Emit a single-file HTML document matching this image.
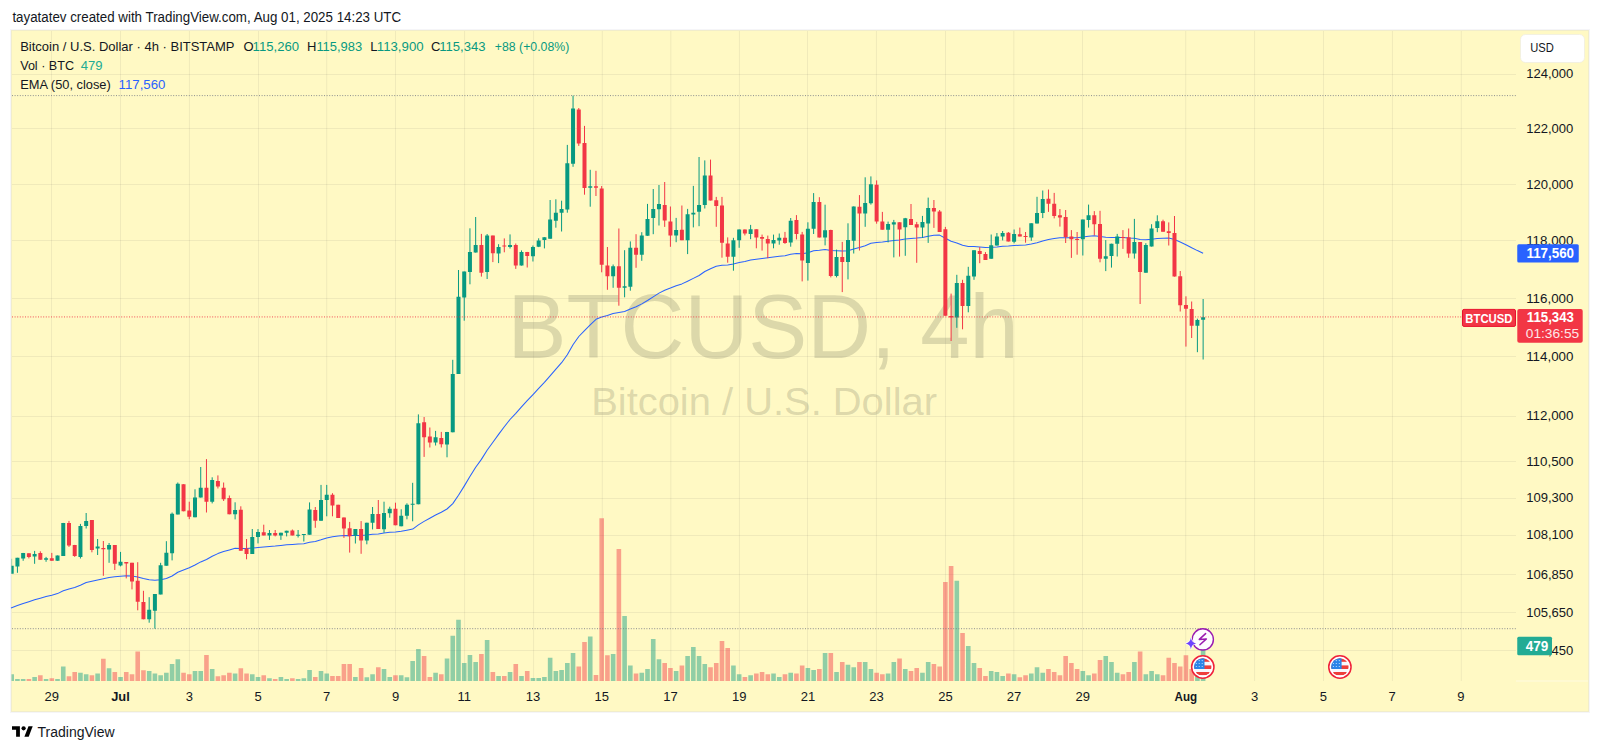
<!DOCTYPE html><html><head><meta charset="utf-8"><title>BTCUSD chart</title><style>
html,body{margin:0;padding:0;background:#fff;width:1600px;height:751px;overflow:hidden;}
svg{position:absolute;left:0;top:0;display:block;}
text{font-family:"Liberation Sans",sans-serif;}
</style></head><body>
<svg width="1600" height="751" viewBox="0 0 1600 751">
<rect x="10" y="29" width="1580" height="684" fill="#f5f5f8"/>
<rect x="11" y="30" width="1578" height="682" fill="#f1edcb"/>
<rect x="12" y="31" width="1576" height="680" fill="#FFF9C4"/>
<path d="M51.5 31V681 M120.5 31V681 M189.4 31V681 M258.5 31V681 M326.7 31V681 M395.5 31V681 M464.6 31V681 M533.6 31V681 M602.3 31V681 M670.8 31V681 M739.4 31V681 M807.5 31V681 M876.4 31V681 M945.5 31V681 M1013.8 31V681 M1082.5 31V681 M1185.7 31V681 M1254.6 31V681 M1323.5 31V681 M1392.4 31V681 M1461.3 31V681" stroke="rgba(42,46,57,0.07)" stroke-width="1" fill="none"/>
<path d="M12 74.5H1516 M12 128.5H1516 M12 184.5H1516 M12 240.5H1516 M12 298.5H1516 M12 356.5H1516 M12 416.5H1516 M12 461.5H1516 M12 498.5H1516 M12 535.5H1516 M12 574.5H1516 M12 612.5H1516 M12 650.5H1516" stroke="rgba(42,46,57,0.07)" stroke-width="1" fill="none"/>
<g fill="rgba(140,138,110,0.30)">
<text x="507.6" y="358" font-size="90" textLength="511" lengthAdjust="spacingAndGlyphs">BTCUSD, 4h</text>
<text x="591.2" y="415.2" font-size="38.8" textLength="345.8" lengthAdjust="spacingAndGlyphs">Bitcoin / U.S. Dollar</text>
</g>
<path d="M11.50 674.2h2.50V681h-2.50ZM15.13 679.0h4.60V681h-4.60ZM20.86 679.0h4.60V681h-4.60ZM32.32 677.0h4.60V681h-4.60ZM43.77 679.0h4.60V681h-4.60ZM55.23 679.0h4.60V681h-4.60ZM60.96 666.5h4.60V681h-4.60ZM78.14 672.8h4.60V681h-4.60ZM83.87 674.2h4.60V681h-4.60ZM95.32 673.5h4.60V681h-4.60ZM106.78 668.2h4.60V681h-4.60ZM118.24 677.0h4.60V681h-4.60ZM146.88 671.0h4.60V681h-4.60ZM152.60 673.5h4.60V681h-4.60ZM158.33 675.2h4.60V681h-4.60ZM164.06 672.8h4.60V681h-4.60ZM169.79 664.0h4.60V681h-4.60ZM175.52 659.2h4.60V681h-4.60ZM192.70 671.0h4.60V681h-4.60ZM198.43 671.0h4.60V681h-4.60ZM209.88 669.0h4.60V681h-4.60ZM232.80 673.5h4.60V681h-4.60ZM249.98 674.2h4.60V681h-4.60ZM255.71 677.0h4.60V681h-4.60ZM267.16 678.2h4.60V681h-4.60ZM278.62 677.0h4.60V681h-4.60ZM284.35 679.0h4.60V681h-4.60ZM295.80 679.0h4.60V681h-4.60ZM301.53 678.2h4.60V681h-4.60ZM307.26 670.0h4.60V681h-4.60ZM318.72 671.0h4.60V681h-4.60ZM324.44 673.5h4.60V681h-4.60ZM353.08 677.0h4.60V681h-4.60ZM364.54 677.2h4.60V681h-4.60ZM370.27 674.2h4.60V681h-4.60ZM381.72 669.0h4.60V681h-4.60ZM387.45 677.0h4.60V681h-4.60ZM398.91 675.2h4.60V681h-4.60ZM404.64 677.2h4.60V681h-4.60ZM410.36 661.0h4.60V681h-4.60ZM416.09 649.0h4.60V681h-4.60ZM433.28 672.8h4.60V681h-4.60ZM444.73 658.5h4.60V681h-4.60ZM450.46 635.8h4.60V681h-4.60ZM456.19 619.8h4.60V681h-4.60ZM461.92 663.0h4.60V681h-4.60ZM467.64 655.0h4.60V681h-4.60ZM473.37 662.0h4.60V681h-4.60ZM484.83 640.0h4.60V681h-4.60ZM496.28 676.0h4.60V681h-4.60ZM507.74 672.0h4.60V681h-4.60ZM519.20 676.0h4.60V681h-4.60ZM530.65 678.0h4.60V681h-4.60ZM536.38 678.0h4.60V681h-4.60ZM542.11 677.0h4.60V681h-4.60ZM547.84 657.8h4.60V681h-4.60ZM553.56 671.0h4.60V681h-4.60ZM559.29 670.0h4.60V681h-4.60ZM565.02 663.0h4.60V681h-4.60ZM570.75 653.0h4.60V681h-4.60ZM587.93 636.5h4.60V681h-4.60ZM610.84 654.0h4.60V681h-4.60ZM622.30 616.0h4.60V681h-4.60ZM628.03 665.5h4.60V681h-4.60ZM639.48 672.8h4.60V681h-4.60ZM645.21 669.0h4.60V681h-4.60ZM650.94 639.0h4.60V681h-4.60ZM656.67 659.2h4.60V681h-4.60ZM673.85 671.0h4.60V681h-4.60ZM685.31 656.0h4.60V681h-4.60ZM691.04 647.0h4.60V681h-4.60ZM696.76 656.0h4.60V681h-4.60ZM702.49 664.0h4.60V681h-4.60ZM731.13 665.5h4.60V681h-4.60ZM736.86 674.2h4.60V681h-4.60ZM748.32 675.2h4.60V681h-4.60ZM771.23 673.5h4.60V681h-4.60ZM776.96 677.0h4.60V681h-4.60ZM788.41 672.8h4.60V681h-4.60ZM805.60 668.0h4.60V681h-4.60ZM811.32 670.0h4.60V681h-4.60ZM822.78 653.0h4.60V681h-4.60ZM834.24 672.0h4.60V681h-4.60ZM845.69 664.8h4.60V681h-4.60ZM851.42 667.2h4.60V681h-4.60ZM862.88 662.0h4.60V681h-4.60ZM868.60 669.0h4.60V681h-4.60ZM885.79 673.5h4.60V681h-4.60ZM891.52 662.0h4.60V681h-4.60ZM902.97 669.0h4.60V681h-4.60ZM920.16 672.8h4.60V681h-4.60ZM925.88 662.0h4.60V681h-4.60ZM954.52 580.7h4.60V681h-4.60ZM965.98 646.0h4.60V681h-4.60ZM971.71 663.0h4.60V681h-4.60ZM988.89 671.0h4.60V681h-4.60ZM994.62 672.0h4.60V681h-4.60ZM1000.35 676.0h4.60V681h-4.60ZM1011.80 674.2h4.60V681h-4.60ZM1028.99 673.5h4.60V681h-4.60ZM1034.72 667.2h4.60V681h-4.60ZM1040.44 672.8h4.60V681h-4.60ZM1080.54 671.0h4.60V681h-4.60ZM1086.27 675.2h4.60V681h-4.60ZM1103.45 656.0h4.60V681h-4.60ZM1109.18 662.0h4.60V681h-4.60ZM1114.91 672.8h4.60V681h-4.60ZM1132.09 662.0h4.60V681h-4.60ZM1143.55 674.2h4.60V681h-4.60ZM1149.28 671.0h4.60V681h-4.60ZM1155.00 674.2h4.60V681h-4.60ZM1195.10 675.0h4.60V681h-4.60ZM1200.83 646.0h4.60V681h-4.60Z" fill="rgba(8,153,129,0.45)"/>
<path d="M26.59 679.0h4.60V681h-4.60ZM38.04 675.2h4.60V681h-4.60ZM49.50 678.2h4.60V681h-4.60ZM66.68 676.2h4.60V681h-4.60ZM72.41 672.0h4.60V681h-4.60ZM89.60 675.2h4.60V681h-4.60ZM101.05 658.8h4.60V681h-4.60ZM112.51 672.0h4.60V681h-4.60ZM123.96 672.0h4.60V681h-4.60ZM129.69 674.2h4.60V681h-4.60ZM135.42 651.5h4.60V681h-4.60ZM141.15 670.2h4.60V681h-4.60ZM181.24 672.8h4.60V681h-4.60ZM186.97 674.2h4.60V681h-4.60ZM204.16 655.0h4.60V681h-4.60ZM215.61 676.2h4.60V681h-4.60ZM221.34 675.2h4.60V681h-4.60ZM227.07 672.8h4.60V681h-4.60ZM238.52 668.2h4.60V681h-4.60ZM244.25 673.5h4.60V681h-4.60ZM261.44 675.2h4.60V681h-4.60ZM272.89 679.0h4.60V681h-4.60ZM290.08 678.2h4.60V681h-4.60ZM312.99 677.0h4.60V681h-4.60ZM330.17 676.0h4.60V681h-4.60ZM335.90 676.0h4.60V681h-4.60ZM341.63 664.0h4.60V681h-4.60ZM347.36 664.0h4.60V681h-4.60ZM358.81 668.0h4.60V681h-4.60ZM376.00 667.2h4.60V681h-4.60ZM393.18 675.2h4.60V681h-4.60ZM421.82 656.0h4.60V681h-4.60ZM427.55 677.0h4.60V681h-4.60ZM439.00 674.2h4.60V681h-4.60ZM479.10 654.0h4.60V681h-4.60ZM490.56 672.0h4.60V681h-4.60ZM502.01 676.0h4.60V681h-4.60ZM513.47 664.0h4.60V681h-4.60ZM524.92 671.0h4.60V681h-4.60ZM576.48 666.5h4.60V681h-4.60ZM582.20 642.0h4.60V681h-4.60ZM593.66 675.0h4.60V681h-4.60ZM599.39 518.2h4.60V681h-4.60ZM605.12 655.2h4.60V681h-4.60ZM616.57 548.9h4.60V681h-4.60ZM633.76 673.5h4.60V681h-4.60ZM662.40 663.0h4.60V681h-4.60ZM668.12 668.0h4.60V681h-4.60ZM679.58 665.5h4.60V681h-4.60ZM708.22 667.2h4.60V681h-4.60ZM713.95 663.0h4.60V681h-4.60ZM719.68 641.0h4.60V681h-4.60ZM725.40 648.0h4.60V681h-4.60ZM742.59 677.0h4.60V681h-4.60ZM754.04 673.5h4.60V681h-4.60ZM759.77 672.0h4.60V681h-4.60ZM765.50 674.2h4.60V681h-4.60ZM782.68 674.2h4.60V681h-4.60ZM794.14 673.5h4.60V681h-4.60ZM799.87 665.5h4.60V681h-4.60ZM817.05 669.0h4.60V681h-4.60ZM828.51 653.0h4.60V681h-4.60ZM839.96 662.0h4.60V681h-4.60ZM857.15 662.0h4.60V681h-4.60ZM874.33 672.8h4.60V681h-4.60ZM880.06 674.2h4.60V681h-4.60ZM897.24 658.5h4.60V681h-4.60ZM908.70 671.0h4.60V681h-4.60ZM914.43 668.0h4.60V681h-4.60ZM931.61 664.0h4.60V681h-4.60ZM937.34 666.5h4.60V681h-4.60ZM943.07 581.9h4.60V681h-4.60ZM948.80 566.0h4.60V681h-4.60ZM960.25 633.0h4.60V681h-4.60ZM977.44 668.0h4.60V681h-4.60ZM983.16 676.0h4.60V681h-4.60ZM1006.08 673.5h4.60V681h-4.60ZM1017.53 677.2h4.60V681h-4.60ZM1023.26 675.2h4.60V681h-4.60ZM1046.17 669.0h4.60V681h-4.60ZM1051.90 672.0h4.60V681h-4.60ZM1057.63 675.2h4.60V681h-4.60ZM1063.36 656.0h4.60V681h-4.60ZM1069.08 663.0h4.60V681h-4.60ZM1074.81 669.0h4.60V681h-4.60ZM1092.00 673.5h4.60V681h-4.60ZM1097.72 660.0h4.60V681h-4.60ZM1120.64 674.2h4.60V681h-4.60ZM1126.36 672.0h4.60V681h-4.60ZM1137.82 651.5h4.60V681h-4.60ZM1160.73 675.2h4.60V681h-4.60ZM1166.46 657.8h4.60V681h-4.60ZM1172.19 663.0h4.60V681h-4.60ZM1177.92 666.5h4.60V681h-4.60ZM1183.64 655.2h4.60V681h-4.60ZM1189.37 669.0h4.60V681h-4.60Z" fill="rgba(242,54,69,0.45)"/>
<path d="M12 95.6H1516M12 628.7H1516" stroke="#787B86" stroke-width="1" stroke-dasharray="1 1.6" fill="none" opacity="0.85"/>
<polyline points="11.0,607.9 17.4,605.6 23.2,603.5 28.9,601.7 34.6,599.8 40.3,598.2 46.1,596.6 51.8,595.2 57.5,593.6 63.3,590.8 69.0,589.0 74.7,587.6 80.4,585.2 86.2,582.6 91.9,581.3 97.6,579.9 103.4,578.7 109.1,577.4 114.8,576.8 120.5,576.2 126.3,575.7 132.0,575.9 137.7,576.9 143.4,578.5 149.2,579.7 154.9,580.3 160.6,579.7 166.4,578.6 172.1,576.0 177.8,572.3 183.5,569.9 189.3,567.8 195.0,565.0 200.7,561.9 206.5,559.5 212.2,556.3 217.9,553.6 223.6,551.4 229.4,549.9 235.1,548.3 240.8,548.4 246.6,548.6 252.3,548.1 258.0,547.5 263.7,547.0 269.5,546.4 275.2,546.0 280.9,545.4 286.6,544.8 292.4,544.5 298.1,544.1 303.8,543.7 309.6,542.3 315.3,541.4 321.0,539.8 326.7,538.0 332.5,536.7 338.2,535.9 343.9,535.6 349.7,535.6 355.4,535.4 361.1,535.6 366.8,535.0 372.6,534.2 378.3,534.0 384.0,533.1 389.8,532.2 395.5,531.9 401.2,531.2 406.9,530.2 412.7,529.1 418.4,524.9 424.1,521.4 429.8,518.2 435.6,515.0 441.3,512.2 447.0,509.0 452.8,503.6 458.5,495.2 464.2,486.1 469.9,476.6 475.7,467.2 481.4,459.4 487.1,450.3 492.9,442.3 498.6,434.4 504.3,426.8 510.0,419.5 515.8,413.3 521.5,406.8 527.2,400.7 533.0,394.6 538.7,388.4 544.4,382.3 550.1,375.8 555.9,369.2 561.6,362.7 567.3,354.7 573.0,344.7 578.8,336.5 584.5,330.6 590.2,324.8 596.0,319.3 601.7,317.1 607.4,315.5 613.1,313.5 618.9,312.5 624.6,311.4 630.3,308.9 636.1,306.7 641.8,303.9 647.5,300.5 653.2,296.9 659.0,293.1 664.7,290.2 670.4,288.1 676.2,285.7 681.9,283.9 687.6,281.2 693.3,278.4 699.1,275.5 704.8,271.5 710.5,268.7 716.2,266.2 722.0,265.2 727.7,264.9 733.4,263.9 739.2,262.5 744.9,261.4 750.6,260.1 756.3,259.2 762.1,258.4 767.8,257.8 773.5,257.1 779.3,256.3 785.0,255.7 790.7,254.3 796.4,253.5 802.2,253.8 807.9,252.8 813.6,250.8 819.4,250.2 825.1,249.4 830.8,250.5 836.5,250.7 842.3,251.1 848.0,250.7 853.7,248.9 859.4,247.5 865.2,245.7 870.9,243.3 876.6,242.4 882.4,241.9 888.1,241.2 893.8,240.4 899.5,240.0 905.3,239.1 911.0,238.5 916.7,238.1 922.5,237.4 928.2,236.3 933.9,235.3 939.6,235.1 945.4,238.2 951.1,241.3 956.8,242.9 962.6,245.3 968.3,246.5 974.0,246.6 979.7,246.9 985.5,247.4 991.2,247.3 996.9,246.9 1002.6,246.3 1008.4,246.1 1014.1,245.6 1019.8,245.2 1025.6,244.9 1031.3,244.0 1037.0,242.8 1042.7,241.0 1048.5,239.5 1054.2,238.6 1059.9,237.7 1065.7,237.7 1071.4,237.7 1077.1,237.8 1082.8,237.1 1088.6,236.2 1094.3,235.7 1100.0,236.6 1105.8,237.3 1111.5,237.6 1117.2,237.5 1122.9,237.5 1128.7,238.1 1134.4,238.3 1140.1,239.6 1145.8,239.7 1151.6,239.3 1157.3,238.6 1163.0,238.3 1168.8,238.1 1174.5,239.6 1180.2,242.1 1185.9,244.7 1191.7,247.8 1197.4,250.6 1203.1,253.2" fill="none" stroke="#2962FF" stroke-width="1.05" stroke-linejoin="round"/>
<path d="M11.70 558.8V573.8" stroke="#089981" stroke-width="1" opacity="0.35"/>
<path d="M17.43 557.8V572.8M23.16 552.9V560.8M34.62 550.9V563.8M46.07 556.9V561.8M57.53 555.5V560.8M63.26 522.9V555.9M80.44 523.9V558.5M86.17 513.0V528.5M97.62 539.0V555.0M109.08 543.0V562.8M120.54 551.9V566.4M149.18 597.2V622.7M154.90 594.0V628.7M160.63 562.8V594.4M166.36 541.2V565.7M172.09 512.5V560.4M177.82 482.5V514.4M195.00 489.3V517.3M200.73 467.0V497.6M212.18 477.3V503.4M235.10 502.3V519.4M252.28 529.0V553.9M258.01 529.1V543.4M269.46 530.0V539.9M280.92 532.7V539.9M286.65 530.7V536.4M298.10 530.0V537.5M303.83 534.0V541.5M309.56 502.4V534.7M321.02 484.9V520.8M326.74 484.9V516.3M355.38 529.1V543.5M366.84 522.7V544.3M372.57 507.0V529.4M384.02 501.7V532.7M389.75 506.7V517.7M401.21 509.3V526.3M406.94 503.3V519.3M412.66 482.8V521.3M418.39 414.4V504.3M435.58 430.9V445.5M447.03 431.9V457.3M452.76 359.8V432.3M458.49 270.0V374.0M464.22 271.5V320.7M469.94 228.3V284.3M475.67 217.0V252.6M487.13 234.0V279.0M498.58 244.2V263.1M510.04 234.4V248.5M521.50 250.4V265.6M532.95 245.5V261.5M538.68 238.3V247.1M544.41 237.2V248.4M550.14 200.0V238.7M555.86 199.3V227.7M561.59 200.7V231.5M567.32 144.9V212.7M573.05 95.6V166.8M590.23 169.8V206.7M613.14 264.5V287.8M624.60 250.2V297.3M630.33 241.4V290.7M641.78 232.2V260.8M647.51 203.9V235.8M653.24 189.0V234.2M658.97 185.0V225.5M676.15 217.9V242.2M687.61 208.9V254.1M693.34 185.9V227.4M699.06 157.0V226.2M704.79 160.4V208.5M733.43 237.8V270.7M739.16 229.4V247.8M750.62 224.9V239.2M773.53 234.6V248.3M779.26 233.5V244.7M790.71 218.0V246.7M807.90 222.3V280.6M813.62 193.1V234.0M825.08 204.7V245.4M836.54 249.6V277.4M847.99 223.3V279.4M853.72 206.4V253.5M865.18 177.3V226.8M870.90 176.4V204.6M888.09 221.6V242.4M893.82 219.9V257.4M905.27 217.9V255.8M922.46 215.9V237.9M928.18 197.6V242.9M956.82 274.8V327.8M968.28 266.8V312.3M974.01 250.2V279.8M991.19 234.5V258.8M996.92 233.0V245.6M1002.65 231.0V240.4M1014.10 229.5V243.3M1031.29 223.2V240.8M1037.02 196.8V223.5M1042.74 190.5V218.1M1082.84 219.6V255.5M1088.57 204.6V227.6M1105.75 240.1V271.1M1111.48 243.7V267.6M1117.21 233.9V256.5M1134.39 218.9V258.6M1145.85 243.2V272.7M1151.58 224.2V246.6M1157.30 215.3V232.2M1197.40 318.7V352.2M1203.13 299.0V359.5" stroke="#089981" stroke-width="1" fill="none"/>
<path d="M28.89 553.3V558.4M40.34 551.3V559.8M51.80 552.9V560.8M68.98 520.9V546.9M74.71 544.9V556.9M91.90 520.0V552.3M103.35 541.0V575.8M114.81 545.0V570.0M126.26 562.0V578.4M131.99 562.8V589.4M137.72 562.2V610.3M143.45 590.8V619.3M183.54 484.2V511.3M189.27 501.7V519.2M206.46 459.1V512.5M217.91 475.4V488.5M223.64 482.5V501.0M229.37 495.5V514.3M240.82 506.3V550.7M246.55 539.0V559.3M263.74 524.7V535.4M275.19 530.0V536.4M292.38 529.5V535.4M315.29 507.0V527.8M332.47 493.2V516.3M338.20 504.8V517.9M343.93 517.4V537.9M349.66 521.9V552.6M361.11 521.1V553.8M378.30 500.0V529.0M395.48 502.7V525.3M424.12 417.0V456.9M429.85 427.5V447.5M441.30 431.9V447.5M481.40 233.9V276.6M492.86 235.6V262.1M504.31 238.4V252.3M515.77 243.5V268.9M527.22 251.9V267.5M578.78 108.0V145.9M584.50 125.9V194.7M595.96 170.8V196.0M601.69 186.0V272.3M607.42 247.0V289.8M618.87 228.5V305.7M636.06 234.2V267.8M664.70 182.0V226.9M670.42 206.5V246.8M681.88 205.5V240.2M710.52 159.6V200.5M716.25 196.9V226.8M721.98 196.9V257.7M727.70 237.4V262.7M744.89 229.4V235.4M756.34 229.3V248.3M762.07 234.6V250.6M767.80 235.6V258.2M784.98 231.9V243.9M796.44 215.1V239.4M802.17 231.9V281.4M819.35 197.2V237.5M830.81 229.7V277.4M842.26 241.9V292.1M859.45 195.1V250.5M876.63 180.4V223.7M882.36 211.9V229.7M899.54 222.3V256.6M911.00 204.0V224.9M916.73 221.9V262.8M933.91 200.0V227.9M939.64 210.0V231.9M945.37 226.9V315.7M951.10 293.6V341.0M962.55 279.8V329.3M979.74 247.1V263.2M985.46 252.1V259.9M1008.38 232.0V241.5M1019.83 227.6V236.4M1025.56 232.0V242.7M1048.47 189.5V211.9M1054.20 192.9V218.4M1059.93 209.0V226.6M1065.66 210.0V243.0M1071.38 230.1V257.9M1077.11 232.0V254.7M1094.30 211.1V235.4M1100.02 210.8V262.3M1122.94 230.1V248.9M1128.66 228.5V257.8M1140.12 242.0V304.0M1163.03 219.7V231.7M1168.76 222.4V245.5M1174.49 216.0V276.6M1180.22 271.0V311.5M1185.94 296.3V346.6M1191.67 301.5V338.0" stroke="#F23645" stroke-width="1" fill="none"/>
<path d="M11.50 565.8h2.20v8.0h-2.20ZM15.43 557.8h4.00v8.6h-4.00ZM21.16 552.9h4.00v5.5h-4.00ZM32.62 553.9h4.00v2.6h-4.00ZM44.07 558.2h4.00v1.6h-4.00ZM55.53 555.5h4.00v5.3h-4.00ZM61.26 522.9h4.00v33.0h-4.00ZM78.44 526.0h4.00v30.9h-4.00ZM84.17 521.0h4.00v5.0h-4.00ZM95.62 546.5h4.00v2.0h-4.00ZM107.08 545.0h4.00v4.5h-4.00ZM118.54 561.8h4.00v3.6h-4.00ZM147.18 609.7h4.00v9.6h-4.00ZM152.90 594.0h4.00v16.7h-4.00ZM158.63 565.2h4.00v29.2h-4.00ZM164.36 552.7h4.00v13.0h-4.00ZM170.09 513.7h4.00v39.5h-4.00ZM175.82 483.7h4.00v30.7h-4.00ZM193.00 497.4h4.00v19.9h-4.00ZM198.73 487.8h4.00v9.8h-4.00ZM210.18 480.1h4.00v21.6h-4.00ZM233.10 510.0h4.00v4.3h-4.00ZM250.28 537.0h4.00v16.9h-4.00ZM256.01 531.9h4.00v5.2h-4.00ZM267.46 533.0h4.00v2.4h-4.00ZM278.92 532.7h4.00v2.7h-4.00ZM284.65 530.7h4.00v2.0h-4.00ZM296.10 534.8h4.00v1.0h-4.00ZM301.83 534.0h4.00v1.0h-4.00ZM307.56 509.6h4.00v25.1h-4.00ZM319.02 500.0h4.00v20.8h-4.00ZM324.74 494.8h4.00v5.2h-4.00ZM353.38 529.1h4.00v6.7h-4.00ZM364.84 522.7h4.00v17.9h-4.00ZM370.57 513.9h4.00v8.8h-4.00ZM382.02 513.1h4.00v16.2h-4.00ZM387.75 508.7h4.00v4.6h-4.00ZM399.21 515.7h4.00v10.6h-4.00ZM404.94 504.7h4.00v11.0h-4.00ZM410.66 503.7h4.00v1.0h-4.00ZM416.39 423.3h4.00v81.0h-4.00ZM433.58 437.3h4.00v5.2h-4.00ZM445.03 431.9h4.00v12.6h-4.00ZM450.76 374.0h4.00v58.3h-4.00ZM456.49 296.8h4.00v77.2h-4.00ZM462.22 271.5h4.00v25.9h-4.00ZM467.94 252.0h4.00v19.9h-4.00ZM473.67 245.0h4.00v7.6h-4.00ZM485.13 235.5h4.00v36.4h-4.00ZM496.58 247.0h4.00v6.6h-4.00ZM508.04 244.9h4.00v2.0h-4.00ZM519.50 252.0h4.00v13.6h-4.00ZM530.95 247.1h4.00v9.1h-4.00ZM536.68 240.4h4.00v6.4h-4.00ZM542.41 237.2h4.00v2.7h-4.00ZM548.14 219.6h4.00v19.1h-4.00ZM553.86 212.7h4.00v8.0h-4.00ZM559.59 209.1h4.00v3.6h-4.00ZM565.32 163.2h4.00v46.2h-4.00ZM571.05 108.4h4.00v55.4h-4.00ZM588.23 186.2h4.00v1.6h-4.00ZM611.14 266.2h4.00v10.1h-4.00ZM622.60 286.3h4.00v1.4h-4.00ZM628.33 247.8h4.00v38.9h-4.00ZM639.78 235.4h4.00v19.4h-4.00ZM645.51 218.9h4.00v16.9h-4.00ZM651.24 208.9h4.00v9.0h-4.00ZM656.97 203.9h4.00v5.4h-4.00ZM674.15 229.9h4.00v5.7h-4.00ZM685.61 214.2h4.00v26.0h-4.00ZM691.34 212.8h4.00v1.6h-4.00ZM697.06 204.9h4.00v6.9h-4.00ZM702.79 175.5h4.00v29.4h-4.00ZM731.43 240.2h4.00v16.5h-4.00ZM737.16 229.4h4.00v10.8h-4.00ZM748.62 229.3h4.00v4.7h-4.00ZM771.53 239.9h4.00v3.7h-4.00ZM777.26 237.8h4.00v2.6h-4.00ZM788.71 220.7h4.00v21.9h-4.00ZM805.90 228.7h4.00v34.3h-4.00ZM811.62 202.0h4.00v26.7h-4.00ZM823.08 230.3h4.00v7.2h-4.00ZM834.54 256.9h4.00v19.1h-4.00ZM845.99 240.1h4.00v22.0h-4.00ZM851.72 206.4h4.00v34.3h-4.00ZM863.18 202.9h4.00v10.7h-4.00ZM868.90 184.2h4.00v19.0h-4.00ZM886.09 224.0h4.00v5.7h-4.00ZM891.82 222.3h4.00v2.2h-4.00ZM903.27 218.2h4.00v9.1h-4.00ZM920.46 221.9h4.00v5.6h-4.00ZM926.18 208.0h4.00v15.5h-4.00ZM954.82 283.0h4.00v34.4h-4.00ZM966.28 275.8h4.00v30.3h-4.00ZM972.01 250.2h4.00v26.2h-4.00ZM989.19 245.2h4.00v13.6h-4.00ZM994.92 236.4h4.00v9.2h-4.00ZM1000.65 233.0h4.00v3.4h-4.00ZM1012.10 233.9h4.00v7.9h-4.00ZM1029.29 223.2h4.00v14.2h-4.00ZM1035.02 213.0h4.00v10.5h-4.00ZM1040.74 199.0h4.00v14.0h-4.00ZM1080.84 219.6h4.00v19.7h-4.00ZM1086.57 215.2h4.00v4.7h-4.00ZM1103.75 256.2h4.00v2.6h-4.00ZM1109.48 243.7h4.00v12.2h-4.00ZM1115.21 236.4h4.00v7.3h-4.00ZM1132.39 242.0h4.00v11.5h-4.00ZM1143.85 245.0h4.00v27.7h-4.00ZM1149.58 228.6h4.00v18.0h-4.00ZM1155.30 221.3h4.00v6.7h-4.00ZM1195.40 320.0h4.00v5.7h-4.00ZM1201.13 317.2h4.00v2.5h-4.00Z" fill="#089981"/>
<path d="M26.89 553.3h4.00v3.6h-4.00ZM38.34 552.9h4.00v6.9h-4.00ZM49.80 558.2h4.00v2.6h-4.00ZM66.98 522.9h4.00v22.6h-4.00ZM72.71 544.9h4.00v11.0h-4.00ZM89.90 520.0h4.00v29.9h-4.00ZM101.35 547.9h4.00v1.4h-4.00ZM112.81 545.0h4.00v18.8h-4.00ZM124.26 562.0h4.00v1.4h-4.00ZM129.99 562.8h4.00v18.6h-4.00ZM135.72 580.8h4.00v20.9h-4.00ZM141.45 602.1h4.00v17.2h-4.00ZM181.54 484.2h4.00v27.1h-4.00ZM187.27 510.6h4.00v6.2h-4.00ZM204.46 487.8h4.00v13.9h-4.00ZM215.91 480.9h4.00v5.7h-4.00ZM221.64 487.8h4.00v11.5h-4.00ZM227.37 498.0h4.00v16.3h-4.00ZM238.82 509.8h4.00v40.9h-4.00ZM244.55 548.6h4.00v5.3h-4.00ZM261.74 532.2h4.00v3.2h-4.00ZM273.19 533.0h4.00v2.4h-4.00ZM290.38 530.6h4.00v4.8h-4.00ZM313.29 509.9h4.00v10.9h-4.00ZM330.47 494.8h4.00v10.6h-4.00ZM336.20 504.8h4.00v13.1h-4.00ZM341.93 517.4h4.00v11.2h-4.00ZM347.66 528.3h4.00v8.0h-4.00ZM359.11 529.1h4.00v11.5h-4.00ZM376.30 514.0h4.00v15.0h-4.00ZM393.48 508.7h4.00v16.6h-4.00ZM422.12 422.3h4.00v15.0h-4.00ZM427.85 436.5h4.00v6.0h-4.00ZM439.30 437.9h4.00v6.4h-4.00ZM479.40 245.0h4.00v27.8h-4.00ZM490.86 235.6h4.00v17.7h-4.00ZM502.31 245.5h4.00v1.0h-4.00ZM513.77 244.9h4.00v20.6h-4.00ZM525.22 252.0h4.00v3.9h-4.00ZM576.78 109.4h4.00v34.1h-4.00ZM582.50 142.9h4.00v45.1h-4.00ZM593.96 186.2h4.00v1.6h-4.00ZM599.69 188.5h4.00v76.2h-4.00ZM605.42 265.6h4.00v10.7h-4.00ZM616.87 266.2h4.00v21.5h-4.00ZM634.06 247.8h4.00v7.0h-4.00ZM662.70 204.9h4.00v15.6h-4.00ZM668.42 221.5h4.00v13.9h-4.00ZM679.88 229.8h4.00v10.4h-4.00ZM708.52 175.5h4.00v25.0h-4.00ZM714.25 200.3h4.00v5.6h-4.00ZM719.98 205.5h4.00v37.3h-4.00ZM725.70 243.4h4.00v13.3h-4.00ZM742.89 229.4h4.00v4.0h-4.00ZM754.34 229.3h4.00v8.2h-4.00ZM760.07 237.0h4.00v1.8h-4.00ZM765.80 239.1h4.00v4.5h-4.00ZM782.98 237.8h4.00v5.3h-4.00ZM794.44 219.9h4.00v14.1h-4.00ZM800.17 234.6h4.00v26.0h-4.00ZM817.35 202.0h4.00v35.5h-4.00ZM828.81 230.0h4.00v46.0h-4.00ZM840.26 256.9h4.00v5.2h-4.00ZM857.45 206.7h4.00v6.9h-4.00ZM874.63 184.7h4.00v36.9h-4.00ZM880.36 221.6h4.00v8.1h-4.00ZM897.54 222.3h4.00v7.3h-4.00ZM909.00 218.9h4.00v6.0h-4.00ZM914.73 224.3h4.00v3.2h-4.00ZM931.91 208.0h4.00v3.5h-4.00ZM937.64 211.5h4.00v20.4h-4.00ZM943.37 229.3h4.00v86.4h-4.00ZM949.10 316.0h4.00v1.4h-4.00ZM960.55 283.0h4.00v23.0h-4.00ZM977.74 251.1h4.00v2.9h-4.00ZM983.46 254.0h4.00v5.9h-4.00ZM1006.38 232.7h4.00v8.8h-4.00ZM1017.83 234.2h4.00v2.2h-4.00ZM1023.56 236.0h4.00v1.0h-4.00ZM1046.47 198.8h4.00v4.9h-4.00ZM1052.20 203.7h4.00v12.2h-4.00ZM1057.93 215.2h4.00v2.2h-4.00ZM1063.66 216.9h4.00v20.2h-4.00ZM1069.38 236.4h4.00v2.9h-4.00ZM1075.11 238.9h4.00v1.0h-4.00ZM1092.30 215.2h4.00v9.0h-4.00ZM1098.02 224.0h4.00v34.8h-4.00ZM1120.94 236.9h4.00v1.0h-4.00ZM1126.66 237.2h4.00v16.2h-4.00ZM1138.12 242.0h4.00v30.0h-4.00ZM1161.03 221.3h4.00v10.4h-4.00ZM1166.76 231.3h4.00v1.7h-4.00ZM1172.49 233.0h4.00v43.6h-4.00ZM1178.22 276.2h4.00v29.1h-4.00ZM1183.94 305.1h4.00v3.7h-4.00ZM1189.67 308.9h4.00v16.8h-4.00Z" fill="#F23645"/>
<path d="M12 316.9H1462" stroke="#F23645" stroke-width="1.8" stroke-dasharray="1 1.6" fill="none" opacity="0.5"/>
<path d="M1516 681H1588" stroke="#fffbe0" stroke-width="1.2"/>
<g font-size="13">
<text x="20.2" y="51.4" fill="#131722">Bitcoin / U.S. Dollar · 4h · BITSTAMP</text>
<text x="243.6" y="51.4" fill="#131722">O</text>
<text x="252.6" y="51.4" fill="#089981" textLength="46.5" lengthAdjust="spacingAndGlyphs">115,260</text>
<text x="307.0" y="51.4" fill="#131722">H</text>
<text x="316.4" y="51.4" fill="#089981" textLength="45.8" lengthAdjust="spacingAndGlyphs">115,983</text>
<text x="370.3" y="51.4" fill="#131722">L</text>
<text x="376.8" y="51.4" fill="#089981" textLength="46.8" lengthAdjust="spacingAndGlyphs">113,900</text>
<text x="431.0" y="51.4" fill="#131722">C</text>
<text x="439.2" y="51.4" fill="#089981" textLength="46.3" lengthAdjust="spacingAndGlyphs">115,343</text>
<text x="494.8" y="51.4" fill="#089981" textLength="74.5" lengthAdjust="spacingAndGlyphs">+88 (+0.08%)</text>
<text x="20.2" y="70.1" fill="#131722" textLength="53.8" lengthAdjust="spacingAndGlyphs">Vol · BTC</text>
<text x="80.8" y="70.1" fill="#22AB94" textLength="21.8" lengthAdjust="spacingAndGlyphs">479</text>
<text x="20.2" y="88.6" fill="#131722" textLength="90.6" lengthAdjust="spacingAndGlyphs">EMA (50, close)</text>
<text x="118.6" y="88.6" fill="#2962FF" textLength="46.8" lengthAdjust="spacingAndGlyphs">117,560</text>
</g>
<g font-size="13.3" fill="#131722">
<text x="1526.2" y="78.4" textLength="47.2" lengthAdjust="spacingAndGlyphs">124,000</text>
<text x="1526.2" y="133.0" textLength="47.2" lengthAdjust="spacingAndGlyphs">122,000</text>
<text x="1526.2" y="188.6" textLength="47.2" lengthAdjust="spacingAndGlyphs">120,000</text>
<text x="1526.2" y="245.0" textLength="47.2" lengthAdjust="spacingAndGlyphs">118,000</text>
<text x="1526.2" y="302.5" textLength="47.2" lengthAdjust="spacingAndGlyphs">116,000</text>
<text x="1526.2" y="360.9" textLength="47.2" lengthAdjust="spacingAndGlyphs">114,000</text>
<text x="1526.2" y="420.4" textLength="47.2" lengthAdjust="spacingAndGlyphs">112,000</text>
<text x="1526.2" y="465.7" textLength="47.2" lengthAdjust="spacingAndGlyphs">110,500</text>
<text x="1526.2" y="502.3" textLength="47.2" lengthAdjust="spacingAndGlyphs">109,300</text>
<text x="1526.2" y="539.4" textLength="47.2" lengthAdjust="spacingAndGlyphs">108,100</text>
<text x="1526.2" y="578.5" textLength="47.2" lengthAdjust="spacingAndGlyphs">106,850</text>
<text x="1526.2" y="616.5" textLength="47.2" lengthAdjust="spacingAndGlyphs">105,650</text>
<text x="1526.2" y="654.8" textLength="47.2" lengthAdjust="spacingAndGlyphs">104,450</text>
</g>
<rect x="1520.5" y="34.5" width="64" height="28" rx="5" fill="#fff" stroke="#f0eee0" stroke-width="0.8"/>
<text x="1530.3" y="52.1" font-size="13" fill="#131722" textLength="23.6" lengthAdjust="spacingAndGlyphs">USD</text>
<rect x="1517.25" y="244.25" width="61.5" height="18.25" rx="1.5" fill="#2962FF"/>
<text x="1526.5" y="257.75" font-size="13.8" font-weight="bold" fill="#fff" textLength="47.5" lengthAdjust="spacingAndGlyphs">117,560</text>
<rect x="1462.5" y="309.4" width="53" height="17" rx="1.5" fill="#F23645" stroke="#E8112D" stroke-width="1"/>
<text x="1465.3" y="322.5" font-size="13.2" font-weight="bold" fill="#fff" textLength="47.2" lengthAdjust="spacingAndGlyphs">BTCUSD</text>
<rect x="1517.3" y="308.9" width="65.4" height="33.9" rx="2" fill="#F23645"/>
<text x="1526.8" y="322.2" font-size="13.8" font-weight="bold" fill="#fff" textLength="47.2" lengthAdjust="spacingAndGlyphs">115,343</text>
<text x="1525.8" y="337.9" font-size="13.5" fill="#fde6e8" textLength="53.4" lengthAdjust="spacingAndGlyphs">01:36:55</text>
<rect x="1517.25" y="636.75" width="34.75" height="18.5" rx="1.5" fill="#22AB94"/>
<text x="1525.8" y="651" font-size="13.8" font-weight="bold" fill="#fff" textLength="22.6" lengthAdjust="spacingAndGlyphs">479</text>
<g font-size="13" fill="#131722" text-anchor="middle">
<text x="51.8" y="701.2">29</text>
<text x="120.5" y="701.2" font-weight="bold" textLength="18.6" lengthAdjust="spacingAndGlyphs">Jul</text>
<text x="189.3" y="701.2">3</text>
<text x="258.0" y="701.2">5</text>
<text x="326.7" y="701.2">7</text>
<text x="395.5" y="701.2">9</text>
<text x="464.2" y="701.2">11</text>
<text x="533.0" y="701.2">13</text>
<text x="601.7" y="701.2">15</text>
<text x="670.4" y="701.2">17</text>
<text x="739.2" y="701.2">19</text>
<text x="807.9" y="701.2">21</text>
<text x="876.6" y="701.2">23</text>
<text x="945.4" y="701.2">25</text>
<text x="1014.1" y="701.2">27</text>
<text x="1082.8" y="701.2">29</text>
<text x="1185.9" y="701.2" font-weight="bold" textLength="22.6" lengthAdjust="spacingAndGlyphs">Aug</text>
<text x="1254.7" y="701.2">3</text>
<text x="1323.4" y="701.2">5</text>
<text x="1392.2" y="701.2">7</text>
<text x="1460.9" y="701.2">9</text>
</g>
<g>
<circle cx="1202.8" cy="639.4" r="10.6" fill="#fefcff" stroke="#9A1BB0" stroke-width="1.4"/>
<path d="M1205.6 633.6L1199.3 639.4L1206.4 638.9L1199.9 644.7" fill="none" stroke="#9A1BB0" stroke-width="1.5" stroke-linejoin="round" stroke-linecap="round"/>
<path d="M1190.9 637.6Q1191.5 642.6 1196.1 643.4Q1191.5 644.2 1190.9 649.2Q1190.3 644.2 1185.7 643.4Q1190.3 642.6 1190.9 637.6Z" fill="#6E44FF" stroke="#fffdf0" stroke-width="1.6" paint-order="stroke"/>
</g>
<g transform="translate(1202.8,667)"><clipPath id="fc1"><circle r="8.7"/></clipPath><circle r="11.15" fill="#fff" stroke="#F0213A" stroke-width="1.5"/><g clip-path="url(#fc1)"><rect x="-9" y="-9" width="18" height="18" fill="#F7F8FD"/><rect x="-9" y="-9" width="18" height="3.8" fill="#EE3E3B"/><rect x="-9" y="-1.6" width="18" height="3.6" fill="#EE3E3B"/><rect x="-9" y="5.0" width="18" height="3.1" fill="#EE3E3B"/><rect x="-9" y="-9" width="10.7" height="11" fill="#2B84E8"/><circle cx="-6.5" cy="-6.4" r="0.6" fill="#cfe3fb"/><circle cx="-6.5" cy="-3.5" r="0.6" fill="#cfe3fb"/><circle cx="-6.5" cy="-0.5" r="0.6" fill="#cfe3fb"/><circle cx="-3.6" cy="-6.4" r="0.6" fill="#cfe3fb"/><circle cx="-3.6" cy="-3.5" r="0.6" fill="#cfe3fb"/><circle cx="-3.6" cy="-0.5" r="0.6" fill="#cfe3fb"/><circle cx="-0.6" cy="-6.4" r="0.6" fill="#cfe3fb"/><circle cx="-0.6" cy="-3.5" r="0.6" fill="#cfe3fb"/><circle cx="-0.6" cy="-0.5" r="0.6" fill="#cfe3fb"/></g></g>
<g transform="translate(1339.9,667)"><clipPath id="fc2"><circle r="8.7"/></clipPath><circle r="11.15" fill="#fff" stroke="#F0213A" stroke-width="1.5"/><g clip-path="url(#fc2)"><rect x="-9" y="-9" width="18" height="18" fill="#F7F8FD"/><rect x="-9" y="-9" width="18" height="3.8" fill="#EE3E3B"/><rect x="-9" y="-1.6" width="18" height="3.6" fill="#EE3E3B"/><rect x="-9" y="5.0" width="18" height="3.1" fill="#EE3E3B"/><rect x="-9" y="-9" width="10.7" height="11" fill="#2B84E8"/><circle cx="-6.5" cy="-6.4" r="0.6" fill="#cfe3fb"/><circle cx="-6.5" cy="-3.5" r="0.6" fill="#cfe3fb"/><circle cx="-6.5" cy="-0.5" r="0.6" fill="#cfe3fb"/><circle cx="-3.6" cy="-6.4" r="0.6" fill="#cfe3fb"/><circle cx="-3.6" cy="-3.5" r="0.6" fill="#cfe3fb"/><circle cx="-3.6" cy="-0.5" r="0.6" fill="#cfe3fb"/><circle cx="-0.6" cy="-6.4" r="0.6" fill="#cfe3fb"/><circle cx="-0.6" cy="-3.5" r="0.6" fill="#cfe3fb"/><circle cx="-0.6" cy="-0.5" r="0.6" fill="#cfe3fb"/></g></g>
<text x="12.4" y="21.8" font-size="13.8" fill="#131722" textLength="388.7" lengthAdjust="spacingAndGlyphs">tayatatev created with TradingView.com, Aug 01, 2025 14:23 UTC</text>
<g fill="#000">
<path d="M12 726.3H19.9V736.7H16.1V729.8H12Z"/>
<circle cx="23.6" cy="728.3" r="2.1"/>
<path d="M28.5 726.3H32.7L28.7 736.7H24.4Z"/>
</g>
<text x="37.5" y="737" font-size="14" fill="#131722">TradingView</text>
</svg></body></html>
